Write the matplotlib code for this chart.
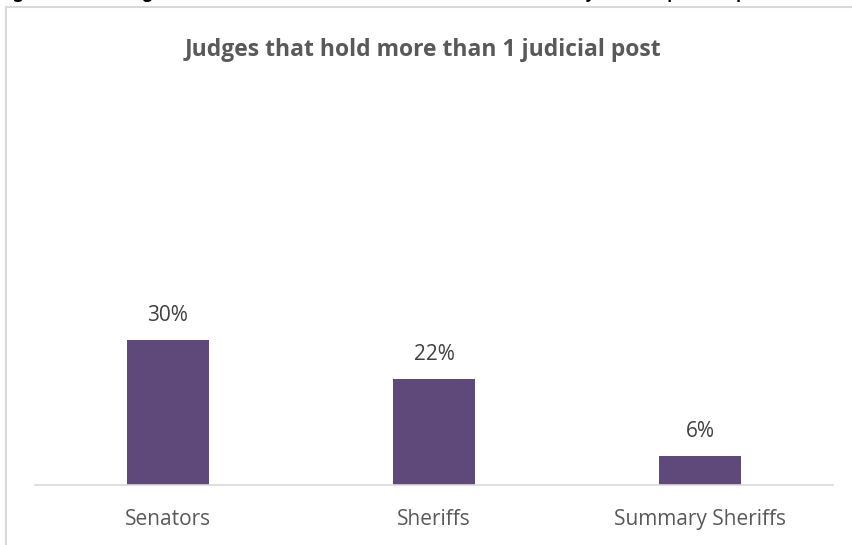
import matplotlib.pyplot as plt
from matplotlib.lines import Line2D

# Data
categories = ['Senators', 'Sheriffs', 'Summary Sheriffs']
values = [30, 22, 6]
value_labels = ['30%', '22%', '6%']
title = 'Judges that hold more than 1 judicial post'
caption = 'Figure 4: Percentage of Senators and Sheriffs that hold more than 1 role by salaried post (%) per'

plt.rcParams['font.family'] = ['Open Sans', 'DejaVu Sans']

fig = plt.figure(figsize=(8.52, 5.45), dpi=100)
ax = fig.add_axes([35/852, 60/545, 798/852, 395/545])

x = range(len(categories))
ax.bar(x, values, width=0.31, color='#5f497a', zorder=2)
ax.set_xlim(-0.5, 2.5)
ax.set_ylim(0, 81.8)

for xi, v, lab in zip(x, values, value_labels):
    ax.annotate(lab, (xi, v), xytext=(0, 10), textcoords='offset points',
                ha='center', va='bottom', fontsize=15, color='#404040')

ax.set_xticks(list(x))
ax.set_xticklabels(categories, fontsize=15, color='#595959')
ax.tick_params(axis='x', length=0, pad=17)
ax.set_yticks([])
for s in ['top', 'right', 'left']:
    ax.spines[s].set_visible(False)
ax.spines['bottom'].set_color('#d9d9d9')
ax.spines['bottom'].set_linewidth(1.2)

fig.text(423/852, 1 - 50/545, title, ha='center', va='center',
         fontsize=16.5, fontweight='bold', color='#595959')

# chart frame (cut off on the right and bottom)
fig.add_artist(Line2D([6/852, 1], [1 - 7/545, 1 - 7/545], color='#d9d9d9', lw=1.5))
fig.add_artist(Line2D([6/852, 6/852], [0, 1 - 7/545], color='#d9d9d9', lw=1.5))

# document caption above the chart, mostly cropped away
fig.text(0, 1 + 2/545, caption, ha='left', va='baseline',
         fontsize=11.5, fontweight='bold', color='black')

fig.savefig('out.png', dpi=100)
